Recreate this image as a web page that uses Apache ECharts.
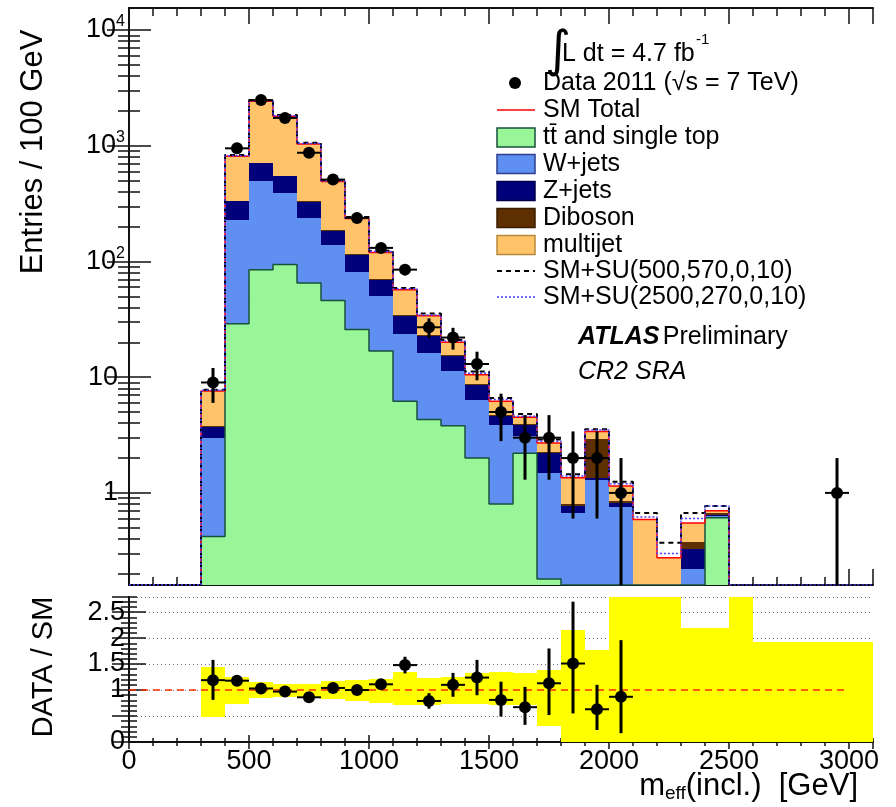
<!DOCTYPE html>
<html>
<head>
<meta charset="utf-8">
<script src="https://cdn.jsdelivr.net/npm/echarts@6/dist/echarts.min.js"></script>
<style>
  html, body { margin: 0; padding: 0; background: #fff; }
  #chart { width: 896px; height: 807px; }
</style>
</head>
<body>
<div id="chart"></div>
<script>
// ---- m_eff(incl.) histogram, 100 GeV bins (lower edges in GeV) ----
const BIN_W = 100;
const binLow = [300, 400, 500, 600, 700, 800, 900, 1000, 1100, 1200, 1300,
                1400, 1500, 1600, 1700, 1800, 1900, 2000, 2100, 2200, 2300, 2400];

// Background contributions per bin (entries / 100 GeV), stacked bottom to top
const ttbar    = [0.42, 28.9, 85, 94, 65, 46, 25.8, 16.8, 6.2, 4.3, 3.8, 2.0, 0.8, 2.2, 0.18, 0.05, 0.05, 0.05, 0, 0, 0, 0.61];
const wjets    = [2.58, 201, 408, 297, 173, 92, 56, 33, 17.2, 11.9, 7.5, 4.4, 3.1, 0.9, 1.32, 0.62, 1.25, 0.7, 0.1, 0.05, 0.22, 0.02];
const zjets    = [0.73, 101, 217, 154, 89, 46, 32, 20, 10.2, 6.4, 3.9, 2.1, 0.7, 0.8, 0.7, 0.1, 0.05, 0.07, 0, 0, 0.105, 0.01];
const diboson  = [0.02, 2, 5, 4, 3, 2, 1.2, 1, 0.6, 0.4, 0.3, 0.2, 0.1, 0.05, 0.05, 0.03, 1.55, 0.03, 0, 0, 0.055, 0.03];
const multijet = [3.85, 477, 1705, 1246, 705, 304, 120, 49, 22.8, 11, 4.5, 1.8, 1.5, 0.55, 0.45, 0.55, 0.5, 0.3, 0.49, 0.225, 0.17, 0.03];

// SM + signal totals per bin
const smSU500  = [7.8, 830, 2480, 1840, 1060, 505, 242, 124, 59, 35.5, 21, 11.2, 6.6, 4.8, 2.9, 1.45, 3.55, 1.25, 0.67, 0.37, 0.67, 0.77];
const smSU2500 = [7.7, 820, 2450, 1815, 1045, 497, 238, 122, 58, 34.5, 20.5, 10.8, 6.4, 4.6, 2.8, 1.4, 3.5, 1.2, 0.62, 0.3, 0.6, 0.77];

// Data 2011 (bin centres, counts, errors)
const dataMass   = [350, 450, 550, 650, 750, 850, 950, 1050, 1150, 1250, 1350, 1450, 1550, 1650, 1750, 1850, 1950, 2050, 2950];
const dataCounts = [9, 950, 2480, 1740, 870, 510, 238, 131, 85, 27, 22, 13, 5, 3, 3, 2, 2, 1, 1];
const dataErr    = [3, 31, 50, 42, 29, 23, 15, 11, 9, 5.2, 4.7, 3.6, 2.2, 1.7, 1.7, 1.4, 1.4, 1, 1];

// DATA / SM ratio
const ratioMass = [350, 450, 550, 650, 750, 850, 950, 1050, 1150, 1250, 1350, 1450, 1550, 1650, 1750, 1850, 1950, 2050];
const ratioVal  = [1.19, 1.18, 1.03, 0.97, 0.86, 1.04, 1.00, 1.11, 1.48, 0.79, 1.10, 1.24, 0.81, 0.67, 1.13, 1.51, 0.63, 0.87];
const ratioUp   = [0.39, 0.04, 0.02, 0.02, 0.03, 0.05, 0.07, 0.10, 0.16, 0.15, 0.23, 0.34, 0.35, 0.39, 0.67, 1.19, 0.47, 1.09];
const ratioDown = [0.38, 0.04, 0.02, 0.02, 0.03, 0.05, 0.07, 0.10, 0.16, 0.15, 0.23, 0.34, 0.32, 0.34, 0.61, 0.96, 0.40, 0.70];

// Relative SM uncertainty band in the ratio panel
const bandLowEdge = [300, 400, 500, 600, 700, 800, 900, 1000, 1100, 1200, 1300, 1400, 1500, 1600,
                     1700, 1800, 1900, 2000, 2100, 2200, 2300, 2400, 2500, 2600, 2700, 2800, 2900, 3000];
const bandLow  = [0.49, 0.74, 0.84, 0.87, 0.85, 0.82, 0.78, 0.75, 0.72, 0.72, 0.74, 0.74, 0.72, 0.72,
                  0.30, 0, 0, 0, 0, 0, 0, 0, 0, 0, 0, 0, 0, 0];
const bandHigh = [1.44, 1.26, 1.16, 1.12, 1.12, 1.18, 1.19, 1.22, 1.34, 1.24, 1.26, 1.32, 1.35, 1.32,
                  1.38, 2.15, 1.77, 3, 3, 3, 2.2, 2.2, 3, 1.93, 1.93, 1.93, 1.93, 1.93];

// Axis ticks and labels
const logMajor = [1, 10, 100, 1000, 10000];
const ratioLabels = ['0', '0.5', '1', '1.5', '2', '2.5'];
const legendLabels = ['Data 2011 (\u221As = 7 TeV)', 'SM Total', 'tt\u0304 and single top', 'W+jets',
                      'Z+jets', 'Diboson', 'multijet', 'SM+SU(500,570,0,10)', 'SM+SU(2500,270,0,10)'];

// ---- styling ----
const FONT = '"Liberation Sans", Arial, Helvetica, sans-serif';
const C_TT = '#98f598', C_W = '#5f8ff0', C_Z = '#00007a', C_DB = '#5e2f00', C_MJ = '#ffc46a';
const C_TT_LINE = '#17503c';
const Y_MIN = 0.16, Y_MAX = 15500;
const X_MAX = 3100;
const R_MAX = 2.79;

// cumulative stack tops
const components = [ttbar, wjets, zjets, diboson, multijet];
const compColors = [C_TT, C_W, C_Z, C_DB, C_MJ];
const cumTops = [];
let running = binLow.map(() => 0);
components.forEach(c => {
  const bottoms = running.slice();
  running = running.map((v, i) => v + c[i]);
  cumTops.push({ bottoms, tops: running.slice() });
});
const smTotal = running;

const below = Y_MIN / 4;
const clampLog = v => Math.max(v, below);

function rectRender(color) {
  return function (params, api) {
    const p0 = api.coord([api.value(0), api.value(3)]);
    const p1 = api.coord([api.value(1), api.value(2)]);
    const x0 = Math.round(p0[0]), x1 = Math.round(p1[0]);
    const y0 = Math.round(p0[1]), y1 = Math.round(p1[1]);
    const cs = params.coordSys;
    const shape = echarts.graphic.clipRectByRect(
      { x: x0, y: y0, width: x1 - x0, height: y1 - y0 },
      { x: cs.x, y: cs.y, width: cs.width, height: cs.height });
    return shape && { type: 'rect', shape, style: { fill: color } };
  };
}

function pointRender(halfW, yFloor) {
  return function (params, api) {
    const x = api.value(0), y = api.value(1), up = api.value(2), dn = api.value(3);
    const c = api.coord([x, y]);
    const hi = api.coord([x, y + up]);
    const lo = api.coord([x, Math.max(y - dn, yFloor)]);
    const l = api.coord([x - halfW, y]);
    const r = api.coord([x + halfW, y]);
    return {
      type: 'group',
      children: [
        { type: 'line', shape: { x1: c[0], y1: lo[1], x2: c[0], y2: hi[1] }, style: { stroke: '#000', lineWidth: 3 } },
        { type: 'line', shape: { x1: l[0], y1: c[1], x2: r[0], y2: c[1] }, style: { stroke: '#000', lineWidth: 2 } },
        { type: 'circle', shape: { cx: c[0], cy: c[1], r: 6 }, style: { fill: '#000' } }
      ]
    };
  };
}

// step outline along bin edges, closed down to the axis floor
function stepData(values, fromZero) {
  const pts = [];
  if (fromZero) pts.push([0, Y_MIN]);
  pts.push([binLow[0], Y_MIN]);
  values.forEach((v, i) => pts.push([binLow[i], Math.max(v, Y_MIN)]));
  const end = binLow[binLow.length - 1] + BIN_W;
  pts.push([end, Y_MIN]);
  if (fromZero) pts.push([X_MAX, Y_MIN]);
  return pts;
}

const series = [];

// stacked backgrounds
components.forEach((c, k) => {
  const data = [];
  binLow.forEach((x, i) => {
    if (c[i] > 0) data.push([x, x + BIN_W, clampLog(cumTops[k].bottoms[i]), clampLog(cumTops[k].tops[i])]);
  });
  series.push({
    type: 'custom', xAxisIndex: 0, yAxisIndex: 0, z: 2,
    renderItem: rectRender(compColors[k]),
    encode: { x: [0, 1], y: [2, 3] },
    data, animation: false, silent: true
  });
});

// outlines
series.push({
  type: 'line', xAxisIndex: 0, yAxisIndex: 0, step: 'end', symbol: 'none', z: 3,
  data: stepData(cumTops[0].tops, false),
  lineStyle: { color: C_TT_LINE, width: 1.5 }, animation: false, silent: true
});
series.push({
  type: 'line', xAxisIndex: 0, yAxisIndex: 0, step: 'end', symbol: 'none', z: 3,
  data: stepData(smTotal, false),
  lineStyle: { color: '#ff0000', width: 1.5 }, animation: false, silent: true
});
series.push({
  type: 'line', xAxisIndex: 0, yAxisIndex: 0, step: 'end', symbol: 'none', z: 4,
  data: stepData(smSU500, true),
  lineStyle: { color: '#000', width: 2, type: [5, 4] }, animation: false, silent: true
});
series.push({
  type: 'line', xAxisIndex: 0, yAxisIndex: 0, step: 'end', symbol: 'none', z: 4,
  data: stepData(smSU2500, true),
  lineStyle: { color: '#4a3cff', width: 1.5, type: [2, 2] }, animation: false, silent: true
});

// data points
series.push({
  type: 'custom', xAxisIndex: 0, yAxisIndex: 0, z: 6,
  renderItem: pointRender(BIN_W / 2, Y_MIN),
  encode: { x: 0, y: 1 },
  data: dataMass.map((m, i) => [m, dataCounts[i], dataErr[i], dataErr[i]]),
  animation: false, silent: true
});

// ratio panel: uncertainty band
series.push({
  type: 'custom', xAxisIndex: 4, yAxisIndex: 4, z: 2,
  renderItem: rectRender('#ffff00'),
  encode: { x: [0, 1], y: [2, 3] },
  data: bandLowEdge.map((x, i) => [x, x + BIN_W, bandLow[i], bandHigh[i]]),
  animation: false, silent: true
});
// reference line at 1
series.push({
  type: 'line', xAxisIndex: 4, yAxisIndex: 4, symbol: 'none', z: 3,
  data: [[0, 1], [3000, 1]],
  lineStyle: { color: '#ff2a00', width: 1.5, type: [7, 5] }, animation: false, silent: true
});
// ratio points
series.push({
  type: 'custom', xAxisIndex: 4, yAxisIndex: 4, z: 6,
  renderItem: pointRender(BIN_W / 2, 0),
  encode: { x: 0, y: 1 },
  data: ratioMass.map((m, i) => [m, ratioVal[i], ratioUp[i], ratioDown[i]]),
  animation: false, silent: true
});

// ---- axes ----
const frame = { show: true, lineStyle: { color: '#111', width: 2 } };
const tickStyle = { color: '#111', width: 1.5 };

function xAx(grid, pos, interval, len, showLine, labels) {
  return {
    type: 'value', gridIndex: grid, position: pos, min: 0, max: X_MAX, interval,
    axisLine: showLine ? frame : { show: false },
    axisTick: { show: true, inside: true, length: len, lineStyle: tickStyle },
    axisLabel: labels ? {
      show: true, fontSize: 27, fontFamily: FONT, color: '#000', margin: 6,
      showMaxLabel: false,
      formatter: v => String(v)
    } : { show: false },
    splitLine: { show: false }
  };
}

const minorLog = [];
for (let e = -1; e <= 4; e++) {
  for (let m = 2; m <= 9; m++) {
    const v = m * Math.pow(10, e);
    if (v > Y_MIN && v < Y_MAX) minorLog.push(v);
  }
}

function logAx(pos, values, len, labels, showLine) {
  return {
    type: 'log', gridIndex: 0, position: pos, min: Y_MIN, max: Y_MAX, logBase: 10,
    axisLine: showLine ? frame : { show: false },
    axisTick: { show: true, inside: true, length: len, lineStyle: tickStyle, customValues: values },
    axisLabel: labels ? {
      show: true, customValues: logMajor, margin: 4,
      formatter: v => {
        const e = Math.round(Math.log10(v));
        return e <= 1 ? '{b|' + logMajor[e] + '}{p| }' : '{b|10}{s|' + e + '}';
      },
      rich: {
        b: { fontSize: 27, fontFamily: FONT, color: '#000' },
        s: { fontSize: 16, fontFamily: FONT, color: '#000', padding: [0, 0, 16, 0] },
        p: { fontSize: 16, width: 7 }
      }
    } : { show: false },
    splitLine: { show: false }
  };
}

function ratioAx(pos, interval, len, labels, showLine) {
  return {
    type: 'value', gridIndex: 1, position: pos, min: 0, max: R_MAX, interval,
    axisLine: showLine ? frame : { show: false },
    axisTick: { show: true, inside: true, length: len, lineStyle: tickStyle },
    axisLabel: labels ? {
      show: true, fontSize: 27, fontFamily: FONT, color: '#000', margin: 4,
      showMaxLabel: false, showMinLabel: true,
      formatter: v => ratioLabels[Math.round(v / 0.5)]
    } : { show: false },
    splitLine: labels ? { show: true, lineStyle: { color: '#6a6a80', width: 1, type: [1, 3] } } : { show: false }
  };
}

const option = {
  animation: false,
  backgroundColor: '#fff',
  grid: [
    { left: 129, top: 8, width: 744, height: 577 },
    { left: 129, top: 597, width: 744, height: 145 }
  ],
  xAxis: [
    xAx(0, 'bottom', 500, 16, true, false),
    xAx(0, 'bottom', 100, 8, false, false),
    xAx(0, 'top', 500, 16, true, false),
    xAx(0, 'top', 100, 8, false, false),
    xAx(1, 'bottom', 500, 7, true, true),
    xAx(1, 'bottom', 100, 4, false, false),
    xAx(1, 'top', 500, 7, true, false),
    xAx(1, 'top', 100, 4, false, false)
  ],
  yAxis: [
    logAx('left', logMajor, 22, true, true),
    logAx('left', minorLog, 11, false, false),
    logAx('right', logMajor, 22, false, true),
    logAx('right', minorLog, 11, false, false),
    ratioAx('left', 0.5, 17, true, true),
    ratioAx('left', 0.1, 8, false, false),
    ratioAx('right', 0.5, 17, false, true),
    ratioAx('right', 0.1, 8, false, false)
  ],
  series,
  graphic: []
};

// ---- legend and annotations ----
const g = option.graphic;
const rowY = [83, 110, 137.5, 164, 191, 218, 245, 271, 297];
const BOX_X = 497, BOX_W = 38, BOX_H = 19, TXT_X = 543;
const txt = (x, y, text, size, extra) => Object.assign({
  type: 'text', x, y, z: 100,
  style: Object.assign({ text, font: size + 'px ' + FONT, fill: '#000', align: 'left', verticalAlign: 'middle' }, extra || {})
});

g.push({ type: 'circle', z: 100, shape: { cx: 515, cy: rowY[0], r: 6 }, style: { fill: '#000' } });
g.push({ type: 'line', z: 100, shape: { x1: BOX_X, y1: rowY[1], x2: BOX_X + BOX_W, y2: rowY[1] }, style: { stroke: '#ff0000', lineWidth: 1.5 } });
const boxFill = [C_TT, C_W, C_Z, C_DB, C_MJ];
const boxEdge = [C_TT_LINE, '#2b3f8a', '#00004a', '#3a1c00', '#b8893c'];
boxFill.forEach((c, i) => {
  g.push({ type: 'rect', z: 100,
    shape: { x: BOX_X, y: rowY[i + 2] - BOX_H / 2, width: BOX_W, height: BOX_H },
    style: { fill: c, stroke: boxEdge[i], lineWidth: 1.5 } });
});
g.push({ type: 'line', z: 100, shape: { x1: BOX_X, y1: rowY[7], x2: BOX_X + BOX_W, y2: rowY[7] }, style: { stroke: '#000', lineWidth: 2, lineDash: [5, 4] } });
g.push({ type: 'line', z: 100, shape: { x1: BOX_X, y1: rowY[8], x2: BOX_X + BOX_W, y2: rowY[8] }, style: { stroke: '#4a3cff', lineWidth: 1.5, lineDash: [2, 2] } });
legendLabels.forEach((t, i) => g.push(txt(TXT_X, rowY[i], t, 25)));

// luminosity
g.push(txt(545, 53, '\u222B', 50, { font: '50px "DejaVu Sans", sans-serif' }));
g.push(txt(562, 54, 'L dt = 4.7 fb', 25));
g.push(txt(696, 40, '-1', 15));

// experiment label
g.push({ type: 'text', x: 578, y: 337, z: 100, style: {
  text: '{a|ATLAS} {b|Preliminary}', align: 'left', verticalAlign: 'middle',
  rich: {
    a: { font: 'italic bold 25px ' + FONT, fill: '#000' },
    b: { font: '25px ' + FONT, fill: '#000' }
  } } });
g.push(txt(578, 372, 'CR2 SRA', 25, { font: 'italic 25px ' + FONT }));

// axis titles
g.push({ type: 'text', x: 33, y: 152, rotation: Math.PI / 2, z: 100,
  style: { text: 'Entries / 100 GeV', font: '31px ' + FONT, fill: '#000', align: 'center', verticalAlign: 'middle' } });
g.push({ type: 'text', x: 44, y: 667, rotation: Math.PI / 2, z: 100,
  style: { text: 'DATA / SM', font: '29px ' + FONT, fill: '#000', align: 'center', verticalAlign: 'middle' } });
g.push({ type: 'text', x: 858, y: 786, z: 100, style: {
  text: '{a|m}{s|eff}{a|(incl.)  [GeV]}', align: 'right', verticalAlign: 'middle',
  rich: {
    a: { font: '31px ' + FONT, fill: '#000' },
    s: { font: '19px ' + FONT, fill: '#000', padding: [16, 0, 0, 0] }
  } } });

const chart = echarts.init(document.getElementById('chart'), null, { renderer: 'canvas', width: 896, height: 807 });
chart.setOption(option);
</script>
</body>
</html>
